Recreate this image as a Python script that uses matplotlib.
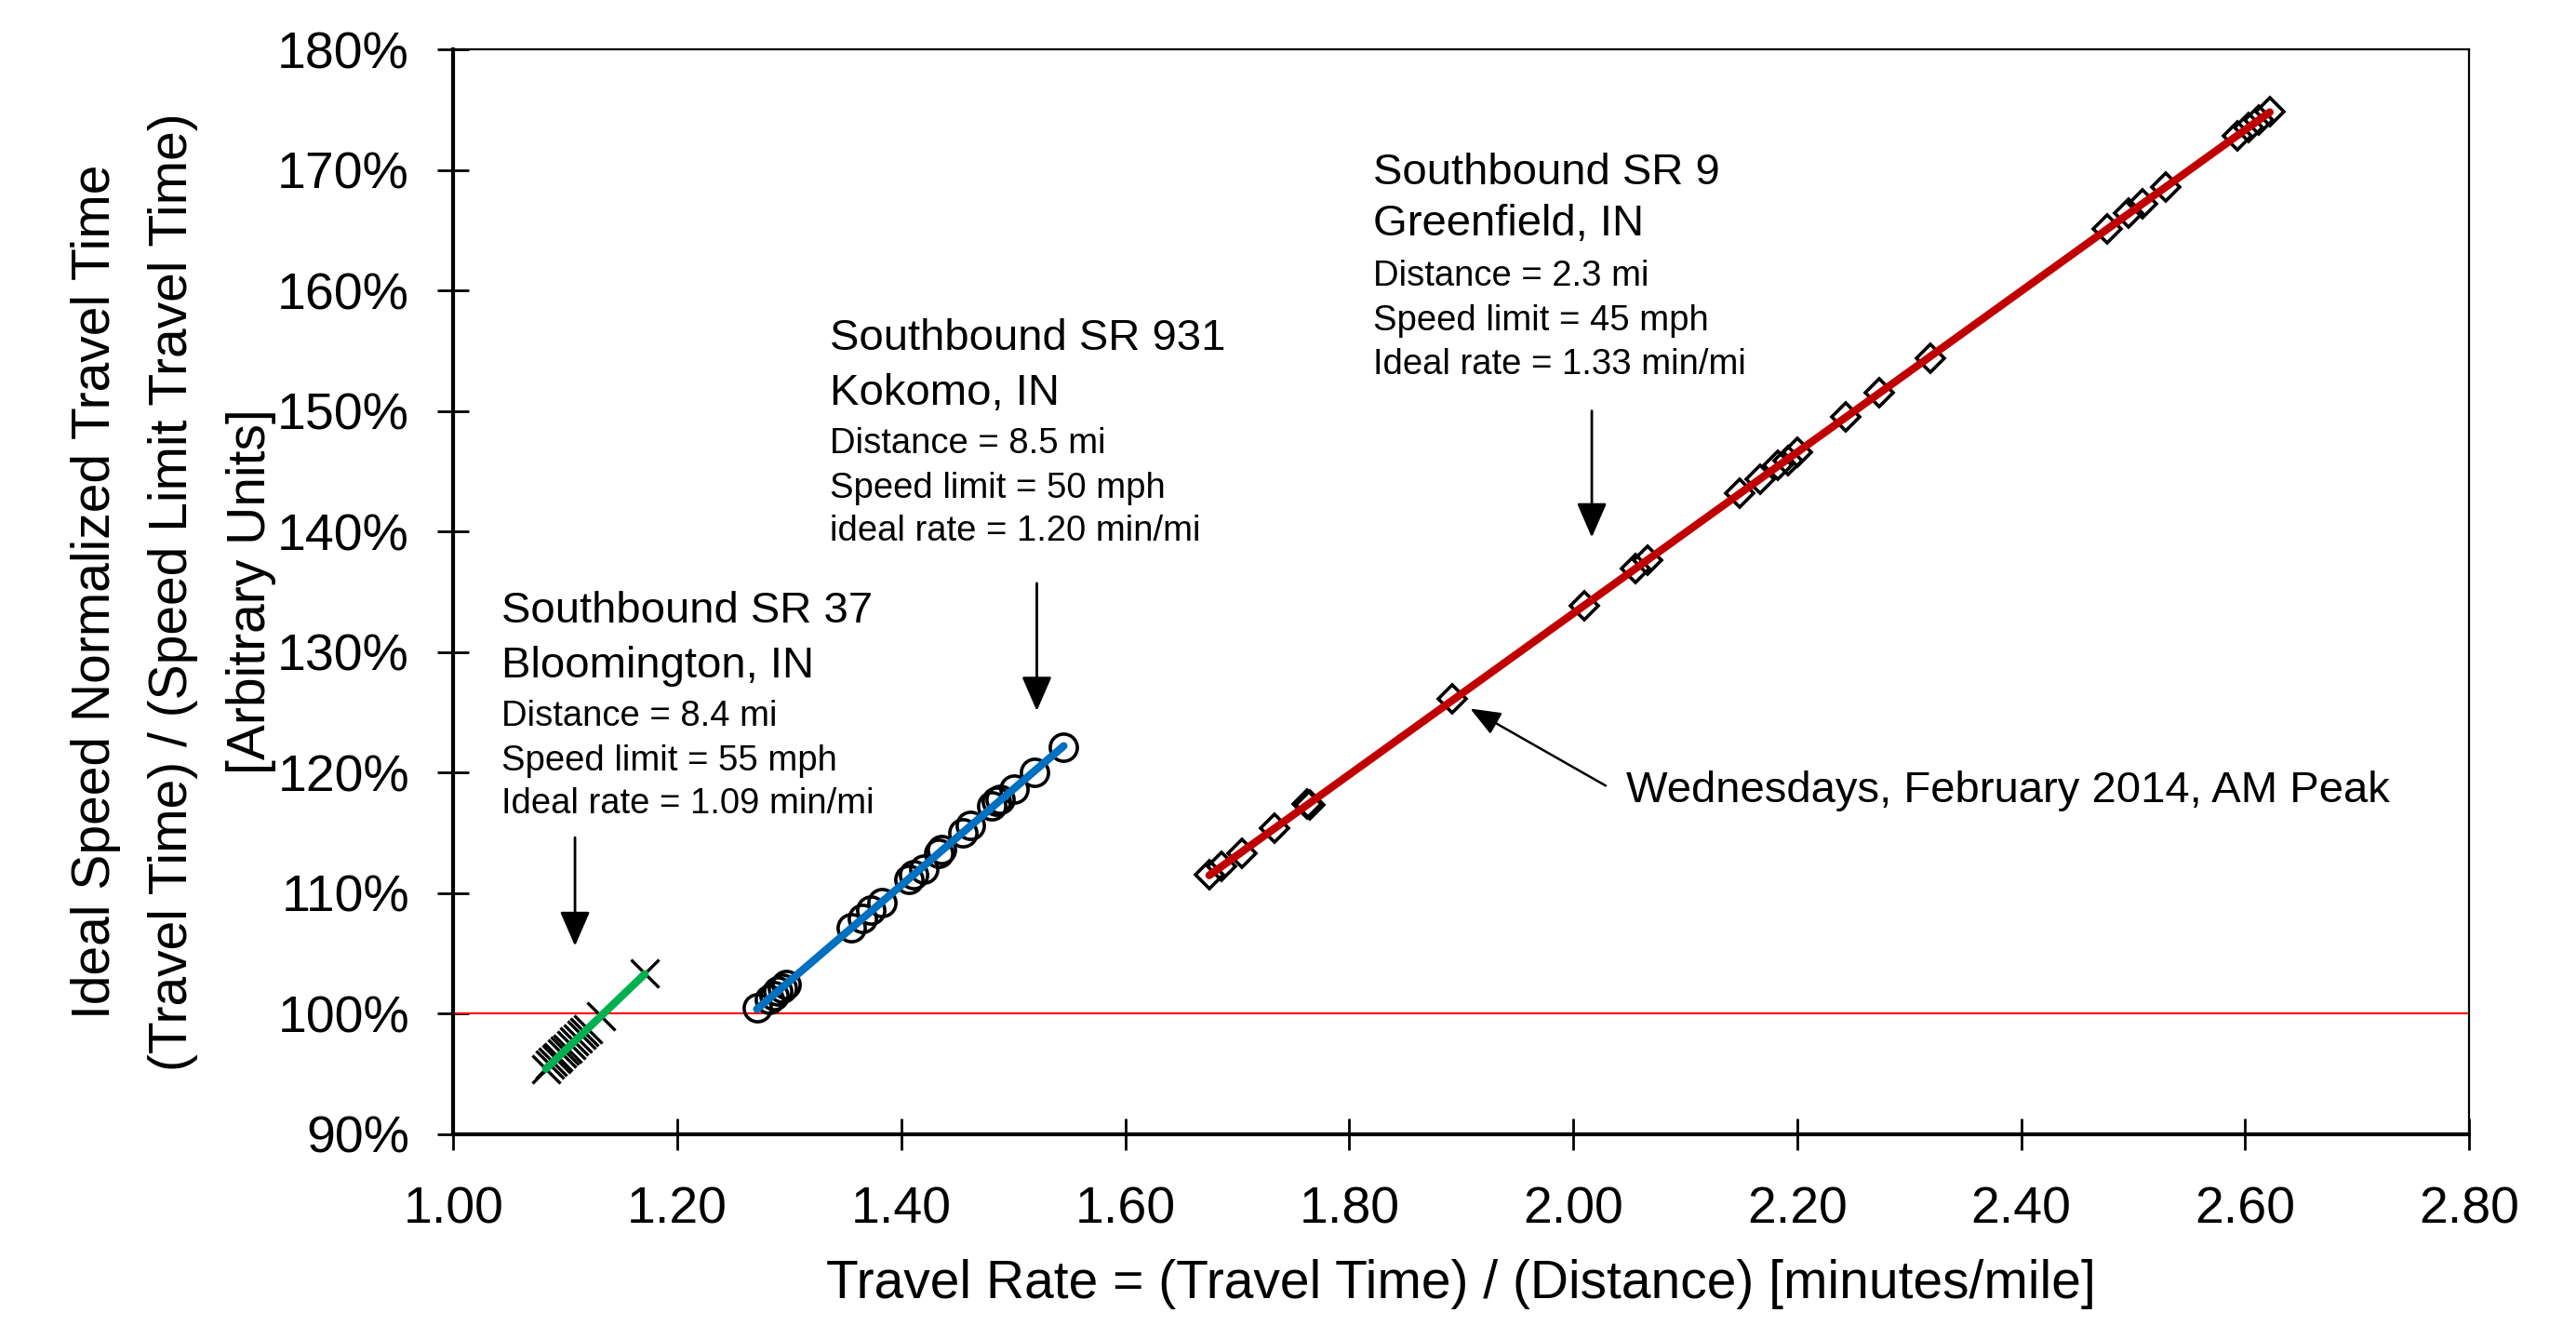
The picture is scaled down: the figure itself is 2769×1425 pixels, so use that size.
import numpy as np
import matplotlib
matplotlib.use("Agg")
import matplotlib.pyplot as plt

# ============================================================
# DATA
# ============================================================

# Southbound SR 37, Bloomington (x markers, green fit)
sr37_rate = [1.0825, 1.0865, 1.089, 1.092, 1.094, 1.097, 1.099, 1.102,
             1.105, 1.108, 1.111, 1.114, 1.117, 1.120, 1.132, 1.171]
sr37_norm = [95.4, 95.8, 96.0, 96.25, 96.4, 96.7, 96.9, 97.1,
             97.4, 97.7, 97.9, 98.2, 98.5, 98.7, 99.8, 103.3]

# Southbound SR 931, Kokomo (circles, blue fit)
sr931_rate = [1.271, 1.282, 1.286, 1.290, 1.294, 1.297, 1.355, 1.365,
              1.373, 1.383, 1.4065, 1.411, 1.420, 1.433, 1.436, 1.455,
              1.462, 1.481, 1.485, 1.488, 1.501, 1.519, 1.545]
sr931_norm = [100.45, 101.2, 101.5, 101.9, 102.1, 102.4, 107.1, 107.9,
              108.6, 109.2, 111.1, 111.5, 112.0, 113.3, 113.6, 115.0,
              115.6, 117.2, 117.6, 117.8, 118.6, 120.0, 122.1]

# Southbound SR 9, Greenfield (diamonds, red fit)
sr9_rate = [1.675, 1.686, 1.704, 1.733, 1.762, 1.765, 1.892, 2.010,
            2.056, 2.066, 2.149, 2.167, 2.183, 2.192, 2.200, 2.243,
            2.273, 2.319, 2.477, 2.496, 2.508, 2.529, 2.593, 2.603,
            2.612, 2.622]
sr9_norm = [111.5, 112.2, 113.3, 115.4, 117.4, 117.3, 126.1, 133.85,
            136.9, 137.6, 143.2, 144.3, 145.5, 145.9, 146.6, 149.5,
            151.5, 154.4, 165.1, 166.4, 167.2, 168.6, 172.8, 173.5,
            174.1, 174.8]

x_ticks = [1.00, 1.20, 1.40, 1.60, 1.80, 2.00, 2.20, 2.40, 2.60, 2.80]
y_ticks = [90, 100, 110, 120, 130, 140, 150, 160, 170, 180]

# ============================================================
# STYLE
# ============================================================

plt.rcParams["font.family"] = ["Liberation Sans", "DejaVu Sans"]

GREEN = "#00B050"
BLUE = "#0070C0"
DARKRED = "#C00000"

HEAD_FS = 34
DETAIL_FS = 27.5

fig = plt.figure(figsize=(27.69, 14.25), dpi=100)
ax = fig.add_axes([0.1760, 0.1448, 0.7825, 0.8180])

# ideal (100%) reference line
ax.axhline(100, color="red", lw=1.5, zorder=2)

# points
ax.plot(sr37_rate, sr37_norm, linestyle="none", marker="x", ms=22, mew=2.4,
        color="black", zorder=3)
ax.plot(sr931_rate, sr931_norm, linestyle="none", marker="o", ms=21, mew=2.6,
        mfc="none", mec="black", zorder=3)
ax.plot(sr9_rate, sr9_norm, linestyle="none", marker="D", ms=15.5, mew=2.6,
        mfc="none", mec="black", zorder=3)

# linear trend lines over each data range
for xs, ys, c in [(sr37_rate, sr37_norm, GREEN),
                  (sr931_rate, sr931_norm, BLUE),
                  (sr9_rate, sr9_norm, DARKRED)]:
    k, b = np.polyfit(xs, ys, 1)
    xx = np.array([min(xs), max(xs)])
    ax.plot(xx, k * xx + b, color=c, lw=6, solid_capstyle="round", zorder=4)

# ---------- axes ----------
ax.set_xlim(1.0, 2.8)
ax.set_ylim(90, 180)
ax.set_xticks(x_ticks)
ax.set_xticklabels([f"{v:.2f}" for v in x_ticks])
ax.set_yticks(y_ticks)
ax.set_yticklabels([f"{v}%" for v in y_ticks])

ax.tick_params(axis="both", direction="inout", length=24, width=2,
               labelsize=40, color="black")
ax.tick_params(axis="x", pad=28)
ax.tick_params(axis="y", pad=22)

for side in ["left", "bottom"]:
    ax.spines[side].set_linewidth(3)
for side in ["top", "right"]:
    ax.spines[side].set_linewidth(1.6)

ax.set_xlabel("Travel Rate = (Travel Time) / (Distance) [minutes/mile]",
              fontsize=41)
ax.xaxis.set_label_coords(0.5, -0.115)
ax.set_ylabel("Ideal Speed Normalized Travel Time\n"
              "(Travel Time) / (Speed Limit Travel Time)\n"
              "[Arbitrary Units]", fontsize=41, multialignment="center",
              linespacing=1.7)
ax.yaxis.set_label_coords(-0.088, 0.5)

# ---------- annotations ----------
def site_label(x, ys, lines):
    for i, (y, txt) in enumerate(zip(ys, lines)):
        ax.text(x, y - 0.3, txt, fontsize=HEAD_FS if i < 2 else DETAIL_FS,
                ha="left", va="center", zorder=5)

site_label(1.0425, [133.64, 129.14, 124.91, 121.23, 117.68],
           ["Southbound SR 37", "Bloomington, IN", "Distance = 8.4 mi",
            "Speed limit = 55 mph", "Ideal rate = 1.09 min/mi"])
site_label(1.336, [156.27, 151.77, 147.55, 143.86, 140.32],
           ["Southbound SR 931", "Kokomo, IN", "Distance = 8.5 mi",
            "Speed limit = 50 mph", "ideal rate = 1.20 min/mi"])
site_label(1.8215, [170.05, 165.82, 161.45, 157.77, 154.09],
           ["Southbound SR 9", "Greenfield, IN", "Distance = 2.3 mi",
            "Speed limit = 45 mph", "Ideal rate = 1.33 min/mi"])

arrow_kw = dict(arrowstyle="-|>,head_length=1.15,head_width=0.5",
                mutation_scale=20, lw=2, color="black",
                shrinkA=0, shrinkB=0)
ax.annotate("", xy=(1.1086, 105.6), xytext=(1.1086, 114.6), arrowprops=arrow_kw)
ax.annotate("", xy=(1.521, 125.1), xytext=(1.521, 135.7), arrowprops=arrow_kw)
ax.annotate("", xy=(2.0166, 139.5), xytext=(2.0166, 150.0), arrowprops=arrow_kw)

ax.annotate("", xy=(1.908, 125.3), xytext=(2.029, 118.9),
            arrowprops=dict(arrowstyle="-|>,head_length=1.0,head_width=0.4",
                            mutation_scale=20, lw=1.8, color="black",
                            shrinkA=0, shrinkB=0))
ax.text(2.047, 118.5, "Wednesdays, February 2014, AM Peak", fontsize=HEAD_FS,
        ha="left", va="center")

fig.savefig("out.png", dpi=100)
